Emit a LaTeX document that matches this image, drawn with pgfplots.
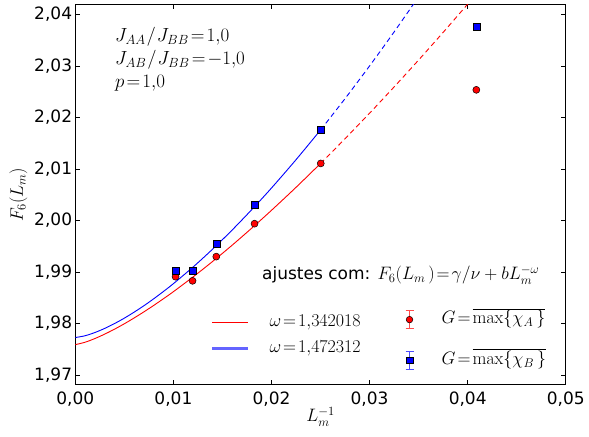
\RequirePackage{fix-cm}
\documentclass[border=0pt]{standalone}
\usepackage[no-math]{fontspec}
\setmainfont{DejaVu Sans}
\usepackage{pgfplots}
\pgfplotsset{compat=1.18}

\begin{document}
\fontsize{17}{20}\selectfont
\begin{tikzpicture}
\pgfplotsset{
  base/.style={
    scale only axis, width=490.5pt, height=380pt,
    xmin=0, xmax=0.05, ymin=1.96812, ymax=2.04194,
  },
  numfmt/.style={/pgf/number format/fixed, /pgf/number format/fixed zerofill,
    /pgf/number format/precision=2, /pgf/number format/use comma,
    /pgf/number format/assume math mode=true},
}
\begin{axis}[base, name=main,
  xtick={0,0.01,0.02,0.03,0.04,0.05},
  ytick={1.97,1.98,1.99,2.00,2.01,2.02,2.03,2.04},
  scaled x ticks=false, scaled y ticks=false,
  tick align=inside,
  major tick length=4.5pt,
  tick style={black, line width=0.8pt},
  axis line style={line width=1pt},
  xticklabel style={numfmt, inner sep=0pt, yshift=-7pt},
  yticklabel style={numfmt, inner sep=0pt, xshift=-3pt},
  xlabel={$L_m^{-1}$},
  ylabel={$F_6(L_m)$},
  every axis x label/.style={at={(axis description cs:0.5,-0.0842)}, anchor=center, font=\fontsize{18}{20}\selectfont},
  every axis y label/.style={at={(axis description cs:-0.1162,0.5)}, rotate=90, anchor=center, font=\fontsize{18}{20}\selectfont},
  legend style={draw=none, fill=none, at={(axis description cs:0.2767,0.1295)}, anchor=west,
    inner sep=0pt, row sep=12pt, nodes={inner sep=0pt, text height=11pt, text depth=3pt},
    font=\fontsize{18}{20}\selectfont},
  legend cell align=left,
]
% fitted curves F = a + b L^-w
\addplot[red, line width=0.9pt, smooth, forget plot] coordinates {
  (0,1.9759) (0.001,1.97637) (0.002,1.97709) (0.003,1.97795) (0.004,1.97891)
  (0.005,1.97996) (0.006,1.98109) (0.007,1.98228) (0.008,1.98353) (0.009,1.98484)
  (0.010,1.98619) (0.012,1.98905) (0.014,1.99207) (0.016,1.99524) (0.018,1.99856)
  (0.020,2.00200) (0.0225,2.00646) (0.025,2.01110)
};
\addplot[red, line width=0.9pt, smooth, dash pattern=on 5pt off 3.5pt, forget plot] coordinates {
  (0.025,2.01110) (0.0275,2.01591) (0.030,2.02087) (0.0325,2.02597) (0.035,2.03120)
  (0.0375,2.03657) (0.040,2.04206) (0.0425,2.04766)
};
\addplot[blue, line width=0.9pt, smooth, forget plot] coordinates {
  (0,1.97728) (0.001,1.97763) (0.002,1.97826) (0.003,1.97906) (0.004,1.98000)
  (0.005,1.98105) (0.006,1.98222) (0.007,1.98347) (0.008,1.98482) (0.009,1.98625)
  (0.010,1.98775) (0.012,1.99097) (0.014,1.99446) (0.016,1.99819) (0.018,2.00216)
  (0.020,2.00633) (0.0225,2.01183) (0.025,2.01760)
};
\addplot[blue, line width=0.9pt, smooth, dash pattern=on 5pt off 3.5pt, forget plot] coordinates {
  (0.025,2.01760) (0.0275,2.02370) (0.030,2.03005) (0.0325,2.03665) (0.035,2.04350)
};
\addlegendimage{legend image code/.code={\draw[red, line width=0.8pt] (0pt,0pt) -- (36pt,0pt); \path (49pt,0pt);}}
\addlegendentry{\hspace{8pt}$\omega\!=\!1{,}342018$}
\addlegendimage{legend image code/.code={\draw[color={rgb,255:red,100;green,100;blue,255}, line width=2.2pt] (0pt,0pt) -- (36pt,0pt); \path (49pt,0pt);}}
\addlegendentry{\hspace{8pt}$\omega\!=\!1{,}472312$}

\node[anchor=north west, inner sep=0pt, align=left, font=\fontsize{19}{23}\selectfont]
  at (axis description cs:0.081,0.94)
  {$J_{AA}\mkern1mu/\mkern1mu J_{BB}\!=\!1{,}0$\\$J_{AB}\mkern1mu/\mkern1mu J_{BB}\!=\!-1{,}0$\\$p\!=\!1{,}0$};
\node[anchor=west, inner sep=0pt] at (axis description cs:0.3806,0.2887)
  {ajustes com: {\fontsize{18}{20}\selectfont$F_6(L_m\,)\!=\!\gamma/\nu+bL_m^{-\omega}$}};
\end{axis}

\begin{axis}[base, hide axis,
  legend style={draw=none, fill=none, at={(axis description cs:0.672,0.1176)}, anchor=west,
    inner sep=0pt, row sep=22pt, nodes={inner sep=0pt, text height=11pt, text depth=3pt},
    font=\fontsize{18}{20}\selectfont},
  legend cell align=left,
]
\addplot[only marks, mark=*, mark size=3.5pt, mark options={draw=black, line width=0.5pt, fill=red},
  legend image code/.code={
    \draw[red!70!white, line width=0.8pt] (4pt,-9pt) -- (4pt,9pt) (0pt,-9pt) -- (8pt,-9pt) (0pt,9pt) -- (8pt,9pt);
    \draw[black, line width=0.5pt, fill=red] (4pt,0pt) circle (3.3pt);
    \path (36pt,0pt);}]
  coordinates {
  (0.01022,1.9891) (0.01195,1.9883) (0.01437,1.9930) (0.01827,1.9994) (0.02502,2.0111) (0.04088,2.0254)
};
\addlegendentry{$G\!=\!\overline{\max\{\chi_A\,\}}$}
\addplot[only marks, mark=square*, mark size=3.5pt, mark options={draw=black, line width=0.5pt, fill=blue},
  legend image code/.code={
    \draw[blue!70!white, line width=0.8pt] (4pt,-9pt) -- (4pt,9pt) (0pt,-9pt) -- (8pt,-9pt) (0pt,9pt) -- (8pt,9pt);
    \draw[black, line width=0.5pt, fill=blue] (0.7pt,-3.3pt) rectangle (7.3pt,3.3pt);
    \path (36pt,0pt);}]
  coordinates {
  (0.01022,1.9903) (0.01195,1.9902) (0.01437,1.9955) (0.01827,2.0031) (0.02502,2.0176) (0.04088,2.0377)
};
\addlegendentry{$G\!=\!\overline{\max\{\chi_B\,\}}$}
\end{axis}
\pgfresetboundingbox
\path ([shift={(-75.3pt,-51.3pt)}]main.south west) rectangle ([shift={(23.2pt,4.7pt)}]main.north east);
\end{tikzpicture}
\end{document}
